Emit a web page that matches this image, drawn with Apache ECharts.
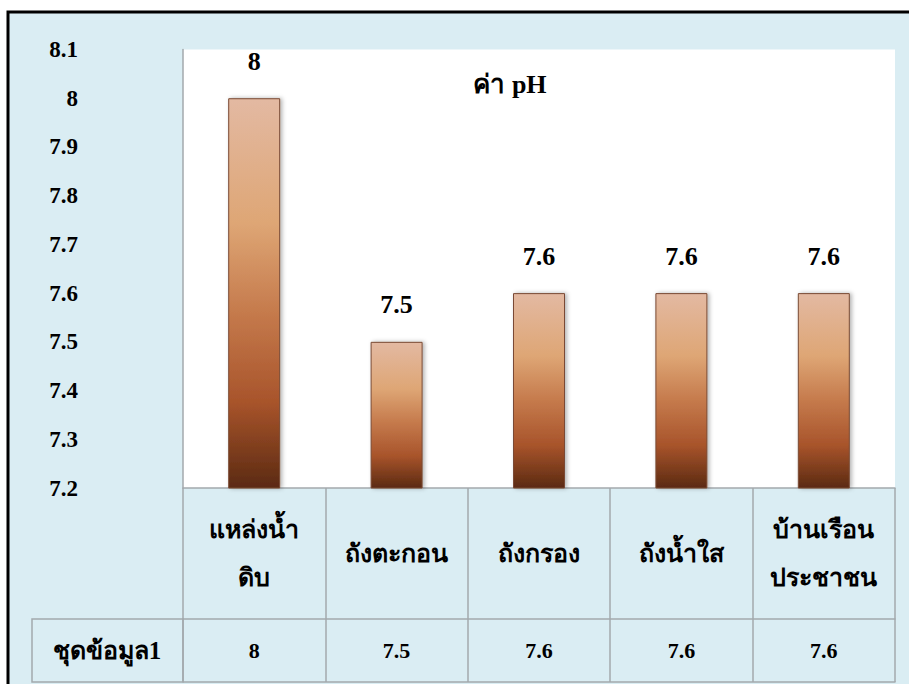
<!DOCTYPE html>
<html>
<head>
<meta charset="utf-8">
<script src="https://cdn.jsdelivr.net/npm/echarts@6/dist/echarts.min.js"></script>
<style>
  html, body { margin: 0; padding: 0; background: #ffffff; }
  #chart { width: 909px; height: 684px; }
</style>
</head>
<body>
<div id="chart"></div>
<script>
// pH readings along the water supply chain
const categories = ['แหล่งน้ำ\nดิบ', 'ถังตะกอน', 'ถังกรอง', 'ถังน้ำใส', 'บ้านเรือน\nประชาชน'];
const phValues = [8, 7.5, 7.6, 7.6, 7.6];
const seriesName = 'ชุดข้อมูล1';
const chartTitle = 'ค่า pH';
const yMin = 7.2;
const yMax = 8.1;
const yStep = 0.1;

const FONT = '"Liberation Serif", "DejaVu Serif", serif';
const GRID = { left: 183, right: 14, top: 49.5, bottom: 196 };
const CAT_ROW = 131;   // height of the category row in the data table
const VAL_ROW = 63;    // height of the value row
const LINE = '#a3a9ad';

const chart = echarts.init(document.getElementById('chart'), null, { renderer: 'svg' });

const barFill = new echarts.graphic.LinearGradient(0, 0, 0, 1, [
  { offset: 0.00, color: '#e3b9a2' },
  { offset: 0.32, color: '#dea675' },
  { offset: 0.55, color: '#c57a4c' },
  { offset: 0.78, color: '#a8542b' },
  { offset: 1.00, color: '#5b2a12' }
]);

const option = {
  backgroundColor: '#ffffff',
  animation: false,
  title: {
    text: chartTitle,
    left: 505,
    top: 66,
    textAlign: 'center',
    textStyle: { fontFamily: FONT, fontSize: 26, fontWeight: 'bold', color: '#000' }
  },
  grid: {
    left: GRID.left, right: GRID.right, top: GRID.top, bottom: GRID.bottom,
    show: true, backgroundColor: '#ffffff', borderWidth: 0
  },
  xAxis: [
    {
      type: 'category',
      data: categories,
      position: 'bottom',
      boundaryGap: true,
      axisLine: { show: true, lineStyle: { color: LINE, width: 1.5 } },
      axisTick: { show: true, interval: 0, length: CAT_ROW, lineStyle: { color: LINE, width: 1.5 } },
      axisLabel: {
        interval: 0,
        margin: CAT_ROW / 2,
        verticalAlign: 'middle',
        lineHeight: 48,
        fontFamily: FONT, fontSize: 25, fontWeight: 'bold', color: '#000'
      }
    },
    {
      type: 'category',
      data: phValues.map(String),
      position: 'bottom',
      offset: CAT_ROW,
      boundaryGap: true,
      axisLine: { show: true, lineStyle: { color: LINE, width: 1.5 } },
      axisTick: { show: true, interval: 0, length: VAL_ROW, lineStyle: { color: LINE, width: 1.5 } },
      axisLabel: {
        interval: 0,
        margin: VAL_ROW / 2,
        verticalAlign: 'middle',
        fontFamily: FONT, fontSize: 22, fontWeight: 'bold', color: '#000'
      }
    },
    {
      type: 'category',
      data: categories,
      position: 'bottom',
      offset: CAT_ROW + VAL_ROW,
      axisLine: { show: true, lineStyle: { color: LINE, width: 1.5 } },
      axisTick: { show: false },
      axisLabel: { show: false }
    }
  ],
  yAxis: {
    type: 'value',
    min: yMin,
    max: yMax,
    interval: yStep,
    axisLine: { show: true, lineStyle: { color: LINE, width: 1.5 } },
    axisTick: { show: false },
    splitLine: { show: false },
    axisLabel: {
      margin: 105,
      formatter: v => String(+v.toFixed(1)),
      fontFamily: FONT, fontSize: 23, fontWeight: 'bold', color: '#000'
    }
  },
  graphic: [
    // Dark outer frame
    { type: 'rect', shape: { x: 8, y: 12, width: 920, height: 700 },
      style: { fill: '#daedf3', stroke: '#000', lineWidth: 3 }, z: -10 },
    // Series-name cell of the data table
    { type: 'rect', shape: { x: 32, y: 684 - GRID.bottom + CAT_ROW, width: GRID.left - 32, height: VAL_ROW },
      style: { fill: 'none', stroke: LINE, lineWidth: 1.5 }, z: 5 },
    { type: 'text', x: 107, y: 684 - GRID.bottom + CAT_ROW + VAL_ROW / 2,
      style: { text: seriesName, fontFamily: FONT, fontSize: 25, fontWeight: 'bold', fill: '#000',
               align: 'center', verticalAlign: 'middle' }, z: 5 }
  ],
  series: [{
    name: seriesName,
    type: 'bar',
    data: phValues,
    barWidth: 52,
    itemStyle: {
      color: barFill,
      borderColor: '#7a4a34',
      borderWidth: 1,
      shadowColor: 'rgba(0,0,0,0.3)',
      shadowBlur: 4,
      shadowOffsetX: 2,
      shadowOffsetY: 0
    },
    label: {
      show: true,
      position: 'top',
      distance: 24,
      formatter: p => String(p.value),
      fontFamily: FONT, fontSize: 26, fontWeight: 'bold', color: '#000'
    }
  }]
};

chart.setOption(option);
</script>
</body>
</html>
